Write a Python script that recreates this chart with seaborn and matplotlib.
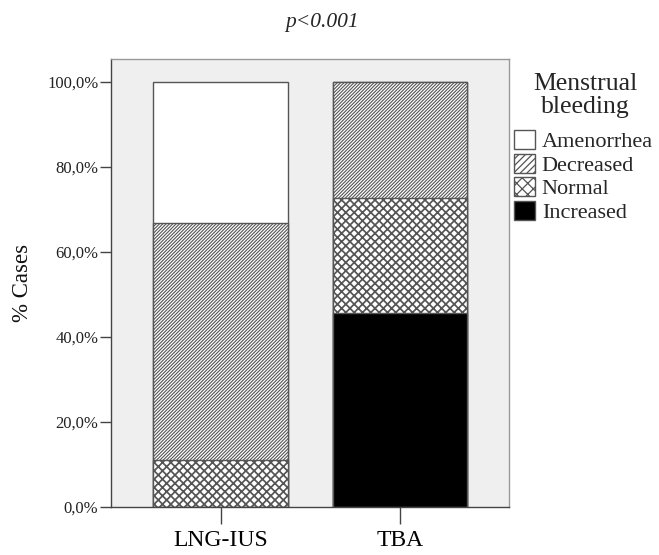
import matplotlib
matplotlib.use("Agg")
import matplotlib.pyplot as plt
import seaborn as sns
import numpy as np
from matplotlib.patches import Patch
from matplotlib.ticker import FixedLocator, FuncFormatter

# ---- data ----
categories = ["LNG-IUS", "TBA"]
series_names = ["Amenorrhea", "Decreased", "Normal", "Increased"]
amenorrhea = [33.3, 0.0]
decreased = [55.6, 27.3]
normal = [11.1, 27.2]
increased = [0.0, 45.5]
y_ticks = [0, 20, 40, 60, 80, 100]
title_text = "p<0.001"
y_label = "% Cases"
legend_title_lines = ["Menstrual", "bleeding"]

sns.set_theme(style="white")
plt.rcParams["font.family"] = ["Liberation Serif", "DejaVu Serif"]
plt.rcParams["hatch.linewidth"] = 0.9
plt.rcParams["hatch.color"] = "black"

fig = plt.figure(figsize=(6.59, 5.55), dpi=100)
ax = fig.add_axes([111 / 659, 1 - 506.7 / 555, (509.3 - 111) / 659, (506.7 - 59.3) / 555])
ax.set_facecolor("#efefef")

HATCH_DEC = "//////////"
HATCH_NOR = "xxxx"

# stacking order bottom -> top: Increased, Normal, Decreased, Amenorrhea
stack_bottom_up = [increased, normal, decreased, amenorrhea]
styles_bottom_up = [
    dict(color="black", hatch=None, hlw=0.9),
    dict(color="white", hatch=HATCH_NOR, hlw=1.25),
    dict(color="white", hatch=HATCH_DEC, hlw=0.8),
    dict(color="white", hatch=None, hlw=0.9),
]
cums = np.cumsum(np.array(stack_bottom_up, dtype=float), axis=0)
bar_w = 0.753
# draw tallest cumulative first so lower segments overlay
for i in range(len(stack_bottom_up) - 1, -1, -1):
    st = styles_bottom_up[i]
    kw = {}
    if st["hatch"]:
        kw["hatch"] = st["hatch"]
    with plt.rc_context({"hatch.linewidth": st["hlw"]}):
        sns.barplot(x=categories, y=list(cums[i]), color=st["color"], saturation=1,
                    width=bar_w, edgecolor="#555555", linewidth=1.0, ax=ax, **kw)

ax.set_xlim(-0.613, 1.61)
ax.set_ylim(0, 105.3)
ax.yaxis.set_major_locator(FixedLocator(y_ticks))
ax.yaxis.set_major_formatter(FuncFormatter(lambda v, p: f"{v:.1f}".replace(".", ",") + "%"))

for s in ["left", "bottom"]:
    ax.spines[s].set_color("#444444")
    ax.spines[s].set_linewidth(1.0)
for s in ["top", "right"]:
    ax.spines[s].set_color("#999999")
    ax.spines[s].set_linewidth(1.0)

ax.tick_params(axis="y", which="major", direction="out", length=8, width=1,
               color="#444444", labelsize=12, pad=1, labelcolor="#222222", left=True)
ax.tick_params(axis="x", which="major", direction="out", length=12, width=1,
               color="#444444", labelsize=17, pad=5, labelcolor="black", bottom=True)
ax.set_xlabel("")
ax.set_ylabel(y_label, fontsize=16.5, color="#111111")
ax.yaxis.set_label_coords(-0.196, 0.5)

fig.text(322 / 659, 1 - 26.5 / 555, title_text, ha="center", va="baseline",
         fontsize=15.5, style="italic")

# legend title (two centred lines)
fig.text(585 / 659, 1 - 90 / 555, legend_title_lines[0], ha="center", va="baseline", fontsize=18.5)
fig.text(585 / 659, 1 - 113 / 555, legend_title_lines[1], ha="center", va="baseline", fontsize=18.5)

# legend entries
leg_styles = {
    "Amenorrhea": dict(facecolor="white", hatch=None),
    "Decreased": dict(facecolor="white", hatch="/////"),
    "Normal": dict(facecolor="white", hatch="xxx"),
    "Increased": dict(facecolor="black", hatch=None),
}
handles = [Patch(edgecolor="#555555", linewidth=1.0, **leg_styles[n]) for n in series_names]
leg = fig.legend(handles, series_names, loc="upper left",
                 bbox_to_anchor=(514 / 659, 1 - 130 / 555), frameon=False,
                 fontsize=16, borderpad=0, borderaxespad=0,
                 handlelength=0.95, handleheight=0.95, handletextpad=0.3,
                 labelspacing=0.06)

fig.savefig("out.png", dpi=100)
